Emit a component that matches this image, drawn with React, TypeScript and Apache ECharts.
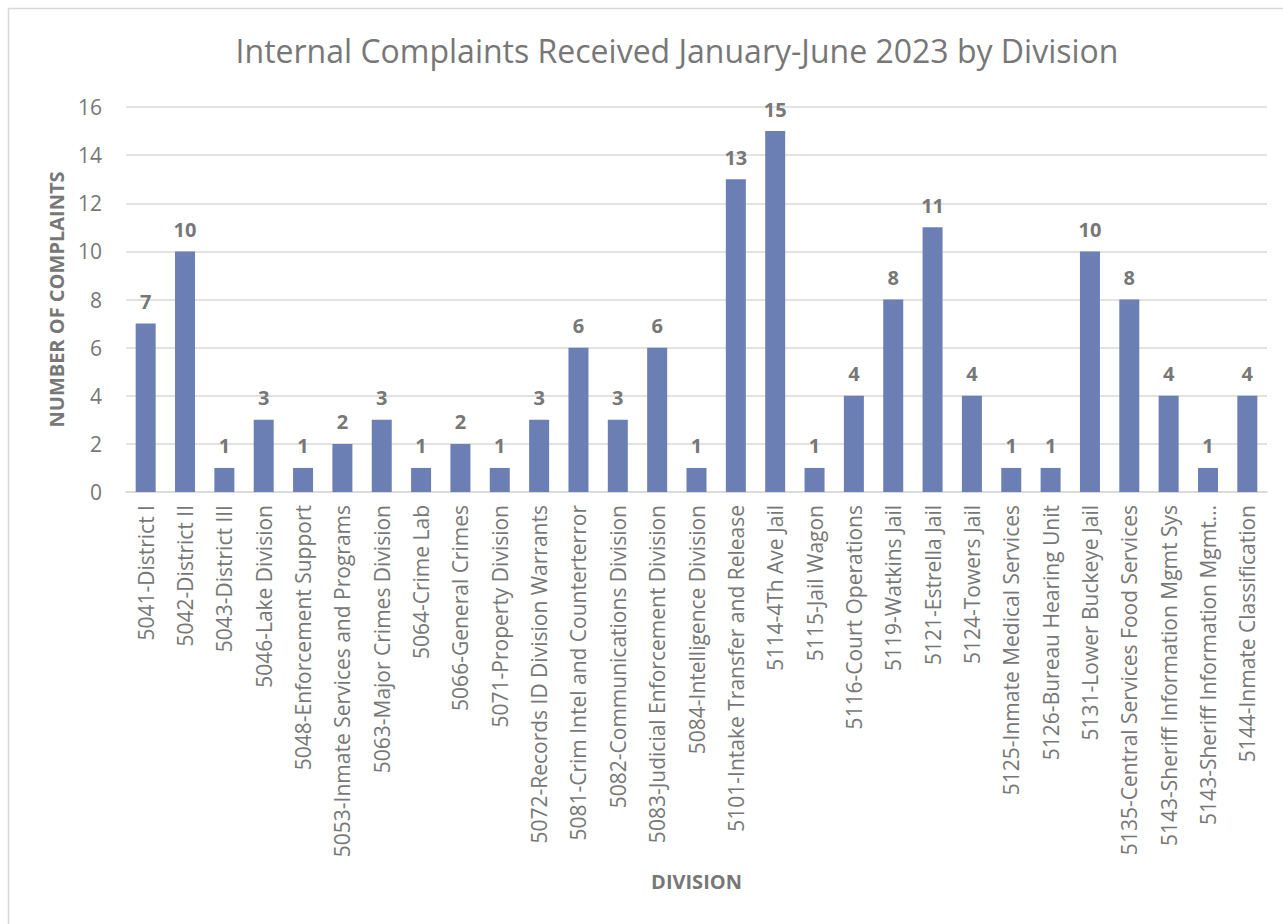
import React, { useEffect, useRef } from "react";
import * as echarts from "echarts";

const titleText = "Internal Complaints Received January-June 2023 by Division";
const yAxisName = "NUMBER OF COMPLAINTS";
const xAxisName = "DIVISION";

const divisions = [
  "5041-District I",
  "5042-District II",
  "5043-District III",
  "5046-Lake Division",
  "5048-Enforcement Support",
  "5053-Inmate Services and Programs",
  "5063-Major Crimes Division",
  "5064-Crime Lab",
  "5066-General Crimes",
  "5071-Property Division",
  "5072-Records ID Division Warrants",
  "5081-Crim Intel and Counterterror",
  "5082-Communications Division",
  "5083-Judicial Enforcement Division",
  "5084-Intelligence Division",
  "5101-Intake Transfer and Release",
  "5114-4Th Ave Jail",
  "5115-Jail Wagon",
  "5116-Court Operations",
  "5119-Watkins Jail",
  "5121-Estrella Jail",
  "5124-Towers Jail",
  "5125-Inmate Medical Services",
  "5126-Bureau Hearing Unit",
  "5131-Lower Buckeye Jail",
  "5135-Central Services Food Services",
  "5143-Sheriff Information Mgmt Sys",
  "5143-Sheriff Information Mgmt…",
  "5144-Inmate Classification",
];

const complaints = [7, 10, 1, 3, 1, 2, 3, 1, 2, 1, 3, 6, 3, 6, 1, 13, 15, 1, 4, 8, 11, 4, 1, 1, 10, 8, 4, 1, 4];

const FONT = "'Open Sans', 'Noto Sans', sans-serif";
const LABEL_GRAY = "#777777";

export default function App() {
  const ref = useRef<HTMLDivElement>(null);
  useEffect(() => {
    if (!ref.current) return;
    const chart = echarts.init(ref.current, null, { renderer: "svg" });
    chart.setOption({
      animation: false,
      backgroundColor: "#ffffff",
      graphic: [
        {
          type: "rect",
          shape: { x: 8.5, y: 8.5, width: 1290, height: 940 },
          style: { fill: "none", stroke: "#d9d9d9", lineWidth: 1.5 },
          silent: true,
        },
        {
          type: "text",
          x: 677,
          y: 50,
          style: {
            text: titleText,
            fontFamily: FONT,
            fontSize: 32,
            fill: "#777777",
            textAlign: "center",
            textVerticalAlign: "middle",
          },
          silent: true,
        },
      ],
      grid: { left: 126, right: 16, top: 107, bottom: 432, containLabel: false },
      xAxis: {
        type: "category",
        data: divisions,
        name: xAxisName,
        nameLocation: "middle",
        nameGap: 379,
        nameTextStyle: { fontFamily: FONT, fontSize: 20, fontWeight: "bold", color: LABEL_GRAY },
        axisLine: { lineStyle: { color: "#d9d9d9", width: 1.5 } },
        axisTick: { show: false },
        axisLabel: {
          interval: 0,
          rotate: 90,
          margin: 13,
          fontFamily: FONT,
          fontSize: 21,
          color: LABEL_GRAY,
        },
      },
      yAxis: {
        type: "value",
        min: 0,
        max: 16,
        interval: 2,
        name: yAxisName,
        nameLocation: "middle",
        nameGap: 60,
        nameTextStyle: { fontFamily: FONT, fontSize: 20, fontWeight: "bold", color: LABEL_GRAY },
        axisLine: { show: false },
        axisTick: { show: false },
        axisLabel: { fontFamily: FONT, fontSize: 21, color: LABEL_GRAY, margin: 24 },
        splitLine: { lineStyle: { color: "#d9d9d9", width: 1.5 } },
      },
      series: [
        {
          type: "bar",
          data: complaints,
          barWidth: 20,
          itemStyle: { color: "#6b7fb5" },
          label: {
            show: true,
            position: "top",
            distance: 12,
            fontFamily: FONT,
            fontSize: 20,
            fontWeight: "bold",
            color: LABEL_GRAY,
          },
        },
      ],
    });
    return () => chart.dispose();
  }, []);
  return (
    <div
      ref={ref}
      style={{ position: "absolute", left: 0, top: 0, width: 1283, height: 924 }}
    />
  );
}
